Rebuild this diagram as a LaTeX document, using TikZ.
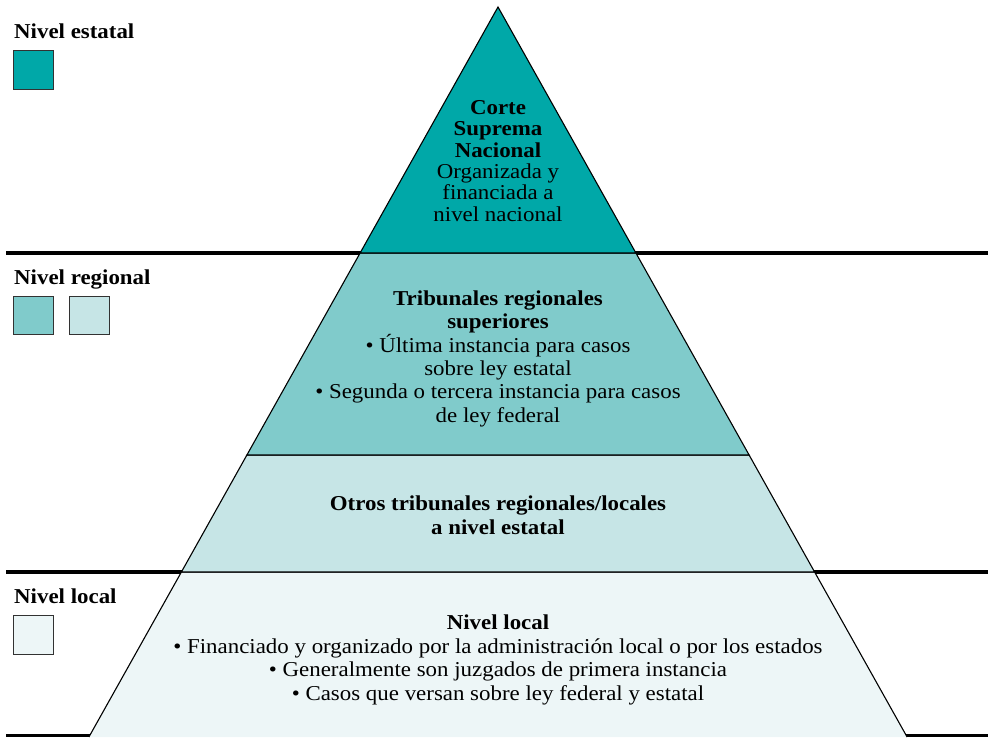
\documentclass[tikz,border=0pt]{standalone}
\usepackage{fontspec}
\setmainfont[FakeStretch=1.08]{Liberation Serif}
\definecolor{tierA}{RGB}{0,168,168}
\definecolor{tierB}{RGB}{128,203,203}
\definecolor{tierC}{RGB}{198,229,230}
\definecolor{tierD}{RGB}{237,246,247}
\definecolor{boxline}{RGB}{50,50,50}
\begin{document}
\begin{tikzpicture}[x=1pt,y=-1pt,
  sepline/.style={line width=4.5pt,black},
  tier/.style={draw=black,line width=1.1pt,line join=miter},
  legsq/.style={draw=boxline,line width=1pt},
  legtxt/.style={anchor=base west,inner sep=0pt,font=\fontsize{21.2}{24}\selectfont\bfseries},
  blk/.style={anchor=north,inner sep=0pt,align=center},
]
\useasboundingbox (0,0) rectangle (988,737);
% separator lines (behind the pyramid)
\draw[sepline] (6,253) -- (988,253);
\draw[sepline] (6,572) -- (988,572);
\draw[line width=3pt] (6,735.5) -- (988,735.5);
% pyramid corner coordinates
\coordinate (apex) at (498,7);
\coordinate (l1) at (360.1,253); \coordinate (r1) at (635.9,253);
\coordinate (l2) at (246.9,455); \coordinate (r2) at (749.1,455);
\coordinate (l3) at (181.4,572); \coordinate (r3) at (814.6,572);
\coordinate (l4) at (88.9,737);  \coordinate (r4) at (907.1,737);
% tiers
\fill[tierD] (l3) -- (r3) -- (r4) -- (l4) -- cycle;
\draw[tier] (l4) -- (l3) -- (r3) -- (r4);
\filldraw[tier,fill=tierC] (l2) -- (r2) -- (r3) -- (l3) -- cycle;
\filldraw[tier,fill=tierB] (l1) -- (r1) -- (r2) -- (l2) -- cycle;
\filldraw[tier,fill=tierA] (apex) -- (r1) -- (l1) -- cycle;
% texts in the pyramid
\node[blk,font=\fontsize{21.2}{21.4}\selectfont] (top) at (498,100)
  {\textbf{Corte}\\\textbf{Suprema}\\\textbf{Nacional}\\Organizada y\\financiada a\\nivel nacional};
\node[blk,font=\fontsize{21.2}{23.4}\selectfont] (reg) at (498,290.3)
  {\textbf{Tribunales regionales}\\\textbf{superiores}\\• Última instancia para casos\\sobre ley estatal\\• Segunda o tercera instancia para casos\\de ley federal};
\node[blk,font=\fontsize{21.2}{23.5}\selectfont] (otros) at (498,496)
  {\textbf{Otros tribunales regionales/locales}\\\textbf{a nivel estatal}};
\node[blk,font=\fontsize{21.2}{23.7}\selectfont] (loc) at (498,614.5)
  {\textbf{Nivel local}\\• Financiado y organizado por la administración local o por los estados\\• Generalmente son juzgados de primera instancia\\• Casos que versan sobre ley federal y estatal};
% legend
\node[legtxt] (lgA) at (14,38.5) {Nivel estatal};
\draw[legsq,fill=tierA] (13.5,50.5) rectangle (53,89.5);
\node[legtxt] (lgB) at (14,284) {Nivel regional};
\draw[legsq,fill=tierB] (13.5,296.5) rectangle (53,334.5);
\draw[legsq,fill=tierC] (69.5,296.5) rectangle (109,334.5);
\node[legtxt] (lgC) at (14,603.5) {Nivel local};
\draw[legsq,fill=tierD] (13.5,615.5) rectangle (53,654.5);
\end{tikzpicture}
\end{document}
